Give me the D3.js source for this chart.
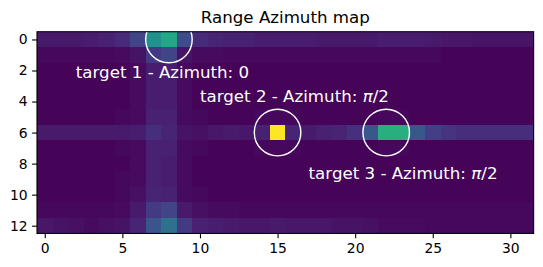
<!DOCTYPE html>
<html>
<head>
<meta charset="utf-8">
<script src="https://cdn.jsdelivr.net/npm/d3@7"></script>
<style>
  body { margin: 0; background: #fff; }
  svg { font-family: "DejaVu Sans", sans-serif; }
</style>
</head>
<body>
<svg id="chart" width="543" height="267"></svg>
<script>
// range-azimuth power, rows = range bins 0..12, cols = azimuth bins 0..31 (normalised)
var row0  = [0.07,0.07,0.07,0.08,0.09,0.12,0.20,0.50,0.60,0.23,0.12,0.10,0.09,0.09,0.08,0.08,0.08,0.08,0.07,0.07,0.07,0.07,0.08,0.08,0.08,0.07,0.06,0.06,0.05,0.05,0.05,0.05];
var row1  = [0.02,0.02,0.02,0.02,0.02,0.03,0.05,0.17,0.20,0.05,0.03,0.03,0.02,0.02,0.02,0.02,0.02,0.02,0.02,0.02,0.02,0.02,0.02,0.02,0.02,0.02,0.01,0.01,0.01,0.01,0.01,0.01];
var row2  = [0.01,0.01,0.01,0.01,0.01,0.01,0.03,0.08,0.08,0.03,0.01,0.01,0.01,0.01,0.01,0.01,0.01,0.01,0.01,0.01,0.01,0.01,0.01,0.01,0.01,0.01,0.01,0.01,0.01,0.01,0.01,0.01];
var row3  = [0.01,0.01,0.01,0.01,0.01,0.01,0.03,0.08,0.08,0.03,0.01,0.01,0.01,0.01,0.01,0.01,0.01,0.01,0.01,0.01,0.01,0.01,0.01,0.01,0.01,0.01,0.01,0.01,0.01,0.01,0.01,0.01];
var row4  = [0.01,0.01,0.01,0.01,0.01,0.01,0.03,0.08,0.08,0.03,0.01,0.01,0.01,0.01,0.01,0.01,0.01,0.01,0.01,0.01,0.01,0.01,0.01,0.01,0.01,0.01,0.01,0.01,0.01,0.01,0.01,0.01];
var row5  = [0.01,0.01,0.01,0.01,0.01,0.02,0.03,0.09,0.09,0.03,0.02,0.01,0.01,0.01,0.02,0.02,0.02,0.01,0.01,0.01,0.01,0.01,0.02,0.02,0.01,0.01,0.01,0.01,0.01,0.01,0.01,0.01];
var row6  = [0.07,0.07,0.07,0.07,0.07,0.07,0.08,0.13,0.10,0.05,0.04,0.06,0.07,0.06,0.09,1.00,0.10,0.07,0.09,0.10,0.14,0.27,0.63,0.63,0.27,0.18,0.15,0.13,0.13,0.13,0.13,0.13];
var row7  = [0.01,0.01,0.01,0.01,0.01,0.02,0.03,0.09,0.09,0.03,0.02,0.01,0.01,0.01,0.02,0.02,0.02,0.01,0.01,0.01,0.01,0.01,0.02,0.02,0.01,0.01,0.01,0.01,0.01,0.01,0.01,0.01];
var row8  = [0.01,0.01,0.01,0.01,0.01,0.01,0.03,0.09,0.08,0.03,0.01,0.01,0.01,0.01,0.01,0.01,0.01,0.01,0.01,0.01,0.01,0.01,0.01,0.01,0.01,0.01,0.01,0.01,0.01,0.01,0.01,0.01];
var row9  = [0.01,0.01,0.01,0.01,0.01,0.02,0.03,0.09,0.08,0.03,0.01,0.01,0.01,0.01,0.01,0.01,0.01,0.01,0.01,0.01,0.01,0.01,0.01,0.01,0.01,0.01,0.01,0.01,0.01,0.01,0.01,0.01];
var row10 = [0.01,0.01,0.01,0.01,0.01,0.02,0.04,0.10,0.09,0.03,0.02,0.01,0.01,0.01,0.01,0.01,0.01,0.01,0.01,0.01,0.01,0.01,0.01,0.01,0.01,0.01,0.01,0.01,0.01,0.01,0.01,0.01];
var row11 = [0.02,0.02,0.02,0.02,0.02,0.03,0.07,0.17,0.20,0.07,0.04,0.03,0.03,0.02,0.02,0.02,0.02,0.02,0.02,0.02,0.02,0.02,0.02,0.02,0.02,0.02,0.02,0.02,0.02,0.02,0.02,0.02];
var row12 = [0.06,0.05,0.04,0.03,0.04,0.05,0.10,0.26,0.37,0.17,0.09,0.08,0.07,0.06,0.06,0.07,0.06,0.06,0.06,0.05,0.05,0.04,0.03,0.03,0.03,0.02,0.02,0.02,0.02,0.02,0.02,0.02];
var rangeAzimuth = [row0,row1,row2,row3,row4,row5,row6,row7,row8,row9,row10,row11,row12];

var xTicks = [0, 5, 10, 15, 20, 25, 30];
var yTicks = [0, 2, 4, 6, 8, 10, 12];

// target markers: azimuth bin, range bin
var targetCol = [8, 15, 22];
var targetRow = [0, 6, 6];
// annotations
var labelText = ["target 1 - Azimuth: 0", "target 2 - Azimuth: ", "target 3 - Azimuth: "];
var labelPi   = [false, true, true];
var labelCol  = [2, 10, 17];
var labelRow  = [2.5, 4, 9];

var svg = d3.select("#chart");
var plotLeft = 37, plotTop = 31.7, cell = 15.52;
var nCols = row0.length, nRows = rangeAzimuth.length;

var x = d3.scaleLinear().domain([-0.5, nCols - 0.5]).range([plotLeft, plotLeft + nCols * cell]);
var y = d3.scaleLinear().domain([-0.5, nRows - 0.5]).range([plotTop, plotTop + nRows * cell]);
var color = d3.scaleSequential(d3.interpolateViridis).domain([0, 1]);

svg.append("clipPath").attr("id", "plotclip")
  .append("rect")
  .attr("x", x(-0.5)).attr("y", y(-0.5))
  .attr("width", x(nCols - 0.5) - x(-0.5))
  .attr("height", y(nRows - 0.5) - y(-0.5));

var cells = [];
rangeAzimuth.forEach(function(r, i) {
  r.forEach(function(v, j) { cells.push({row: i, col: j, v: v}); });
});

svg.append("g").attr("clip-path", "url(#plotclip)").selectAll("rect")
  .data(cells)
  .join("rect")
  .attr("x", d => Math.round(x(d.col - 0.5)))
  .attr("y", d => Math.round(y(d.row - 0.5)))
  .attr("width", d => Math.round(x(d.col + 0.5)) - Math.round(x(d.col - 0.5)))
  .attr("height", d => Math.round(y(d.row + 0.5)) - Math.round(y(d.row - 0.5)))
  .attr("shape-rendering", "crispEdges")
  .attr("fill", d => color(d.v));

//circles around targets
var g = svg.append("g").attr("clip-path", "url(#plotclip)");
g.selectAll("circle")
  .data(targetCol)
  .join("circle")
  .attr("cx", (d, i) => x(d))
  .attr("cy", (d, i) => y(targetRow[i]))
  .attr("r", x(1.5) - x(0))
  .attr("fill", "none")
  .attr("stroke", "white")
  .attr("stroke-width", 1.4);

labelText.forEach(function(t, i) {
  var txt = g.append("text")
    .attr("x", x(labelCol[i]))
    .attr("y", y(labelRow[i]))
    .attr("fill", "white")
    .attr("font-size", "16.67px")
    .text(t);
  if (labelPi[i]) {
    txt.append("tspan").attr("font-style", "italic").text("\u03c0");
    txt.append("tspan").text("/2");
  }
});

//axes
var xAxis = d3.axisBottom(x).tickValues(xTicks).tickSize(4.9).tickPadding(4.5).tickSizeOuter(0);
var yAxis = d3.axisLeft(y).tickValues(yTicks).tickSize(4.9).tickPadding(4.5).tickSizeOuter(0);

var gx = svg.append("g").attr("transform", `translate(0,${y(nRows - 0.5)})`).call(xAxis);
var gy = svg.append("g").attr("transform", `translate(${x(-0.5)},0)`).call(yAxis);
[gx, gy].forEach(function(a) {
  a.select(".domain").remove();
  a.selectAll(".tick line").attr("stroke", "black").attr("stroke-width", 1.1);
  a.selectAll(".tick text").attr("font-size", "13.9px").attr("fill", "black")
    .attr("font-family", "DejaVu Sans, sans-serif");
});

svg.append("rect")
  .attr("x", x(-0.5)).attr("y", y(-0.5))
  .attr("width", x(nCols - 0.5) - x(-0.5))
  .attr("height", y(nRows - 0.5) - y(-0.5))
  .attr("fill", "none").attr("stroke", "black").attr("stroke-width", 1.1);

svg.append("text")
  .attr("x", (x(-0.5) + x(nCols - 0.5)) / 2)
  .attr("y", y(-0.5) - 8.3)
  .attr("text-anchor", "middle")
  .attr("font-size", "16.67px")
  .text("Range Azimuth map");
</script>
</body>
</html>
